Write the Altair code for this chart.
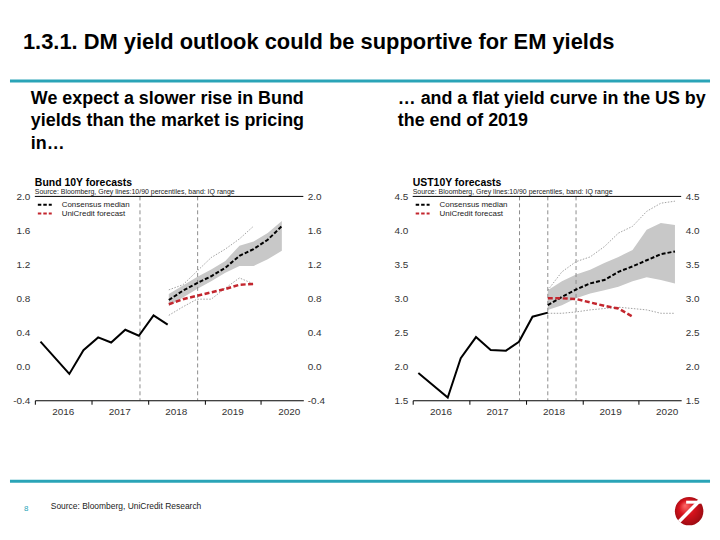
import altair as alt
import pandas as pd

FONT = "Liberation Sans"

# ---------------- text content ----------------
SLIDE_TITLE = "1.3.1. DM yield outlook could be supportive for EM yields"
LEFT_SUB = ["We expect a slower rise in Bund", "yields than the market is pricing", "in\u2026"]
RIGHT_SUB = ["\u2026 and a flat yield curve in the US by", "the end of 2019"]
FOOT_SOURCE = "Source: Bloomberg, UniCredit Research"
PAGE_NO = "8"
CHART_SOURCE = "Source: Bloomberg, Grey lines:10/90 percentiles, band: IQ range"
LEGEND_LABELS = ["Consensus median", "UniCredit forecast"]
YEARS = [2016, 2017, 2018, 2019, 2020]

# ---------------- Bund 10Y ----------------
BUND_TITLE = "Bund 10Y forecasts"
BUND_Y_TICKS = [-0.4, 0.0, 0.4, 0.8, 1.2, 1.6, 2.0]
bund_hist_x = [2016.10, 2016.61, 2016.86, 2017.12, 2017.35, 2017.60, 2017.84, 2018.10, 2018.35]
bund_hist_y = [0.29, -0.09, 0.19, 0.34, 0.28, 0.43, 0.36, 0.60, 0.49]
bund_fc_x = [2018.37, 2018.62, 2018.87, 2019.12, 2019.37, 2019.62, 2019.87, 2020.12, 2020.37]
bund_median = [0.78, 0.89, 0.98, 1.06, 1.16, 1.30, 1.38, 1.49, 1.65]
bund_unicredit = [0.73, 0.79, 0.83, 0.87, 0.91, 0.96, 0.97]
bund_iq_low = [0.71, 0.81, 0.91, 1.00, 1.10, 1.18, 1.18, 1.26, 1.36]
bund_iq_high = [0.85, 0.95, 1.05, 1.14, 1.24, 1.42, 1.47, 1.57, 1.71]
bund_p10 = [0.60, 0.70, 0.79, 0.79, 0.92, 1.04, 0.97]
bund_p90 = [0.90, 0.96, 1.12, 1.28, 1.38, 1.50, 1.65]
bund_vlines = [2017.86, 2018.88]

# ---------------- UST 10Y ----------------
UST_TITLE = "UST10Y forecasts"
UST_Y_TICKS = [1.5, 2.0, 2.5, 3.0, 3.5, 4.0, 4.5]
ust_hist_x = [2016.10, 2016.62, 2016.85, 2017.12, 2017.38, 2017.65, 2017.88, 2018.12, 2018.39]
ust_hist_y = [1.90, 1.54, 2.12, 2.43, 2.24, 2.23, 2.36, 2.73, 2.79]
ust_fc_x = [2018.39, 2018.64, 2018.89, 2019.14, 2019.39, 2019.64, 2019.89, 2020.14, 2020.39, 2020.64]
ust_median = [2.90, 3.02, 3.13, 3.22, 3.27, 3.39, 3.47, 3.56, 3.65, 3.69]
ust_unicredit = [3.00, 3.00, 2.99, 2.94, 2.89, 2.85, 2.73]
ust_iq_low = [2.83, 2.90, 3.00, 3.07, 3.12, 3.17, 3.25, 3.31, 3.27, 3.22]
ust_iq_high = [3.12, 3.25, 3.35, 3.42, 3.52, 3.61, 3.71, 4.01, 4.11, 4.08]
ust_p10 = [2.78, 2.78, 2.80, 2.83, 2.85, 2.87, 2.85, 2.83, 2.78, 2.78]
ust_p90 = [3.12, 3.39, 3.54, 3.61, 3.76, 3.96, 4.06, 4.28, 4.40, 4.43]
ust_vlines = [2017.89, 2018.39, 2018.89]

# ---------------- styling ----------------
W, H = 270, 205
XDOM = [2016, 2020.75]
TEAL = "#2aa4b7"
RED = "#c3262e"
BAND = "#c8c8c8"
ONE = pd.DataFrame({"k": [0]})
YLAB = "datum.value < 0 ? '-' + format(-datum.value, '.1f') : format(datum.value, '.1f')"


def txt(text, x, y, size, weight="normal", color="#000000", align="left",
        baseline="alphabetic", line_height=None):
    kw = dict(text=text, align=align, baseline=baseline, fontSize=size,
              fontWeight=weight, color=color, font=FONT)
    if line_height:
        kw["lineHeight"] = line_height
    return alt.Chart(ONE).mark_text(**kw).encode(x=alt.value(x), y=alt.value(y))


def seg(x1, y1, x2, y2, color, width, dash=None):
    kw = dict(color=color, strokeWidth=width)
    if dash:
        kw["strokeDash"] = dash
    return alt.Chart(ONE).mark_rule(**kw).encode(
        x=alt.value(x1), y=alt.value(y1), x2=alt.value(x2), y2=alt.value(y2))


def panel(title, hx, hy, fx, med, uc, lo, hi, p10, p90, vlines, ydom, yticks, extra=()):
    xs = alt.Scale(domain=XDOM, nice=False, zero=False)
    ys = alt.Scale(domain=ydom, nice=False, zero=False)
    xaxis = alt.Axis(values=YEARS, format="d", labelOffset=28, labelFlush=False,
                     labelOverlap=False, tickSize=4, tickColor="black", tickWidth=1,
                     domainColor="black", domainWidth=1, labelColor="#333333",
                     labelFontSize=10, labelPadding=2, grid=False, title=None, zindex=1)
    yleft = alt.Axis(orient="left", values=yticks, labelExpr=YLAB, ticks=False, domain=False,
                     grid=False, labelPadding=5, labelColor="#333333", labelFontSize=10,
                     labelOverlap=False, labelFlush=False, title=None)
    yright = alt.Axis(orient="right", values=yticks, labelExpr=YLAB, ticks=False, domain=False,
                      grid=False, labelPadding=4, labelColor="#333333", labelFontSize=10,
                      labelOverlap=False, labelFlush=False, title=None)

    def X(f):
        return alt.X(f, scale=xs, axis=xaxis)

    def Y(f):
        return alt.Y(f, scale=ys, axis=yleft)

    band = alt.Chart(pd.DataFrame({"x": fx, "lo": lo, "hi": hi})).mark_area(
        color=BAND, opacity=1).encode(x=X("x:Q"), y=Y("lo:Q"), y2="hi:Q")
    pct_df = pd.DataFrame({
        "x": list(fx[:len(p10)]) + list(fx[:len(p90)]),
        "v": list(p10) + list(p90),
        "s": ["p10"] * len(p10) + ["p90"] * len(p90)})
    pct = alt.Chart(pct_df).mark_line(color="#8a8a8a", strokeWidth=0.8,
                                      strokeDash=[1.5, 1.5]).encode(
        x=X("x:Q"), y=Y("v:Q"), detail="s:N")
    vl = alt.Chart(pd.DataFrame({"x": vlines})).mark_rule(
        color="#8c8c8c", strokeWidth=1, strokeDash=[4, 3]).encode(x=X("x:Q"))
    hist = alt.Chart(pd.DataFrame({"x": hx, "v": hy})).mark_line(
        color="black", strokeWidth=2).encode(x=X("x:Q"), y=Y("v:Q"))
    medl = alt.Chart(pd.DataFrame({"x": fx, "v": med})).mark_line(
        color="black", strokeWidth=2, strokeDash=[4, 2]).encode(x=X("x:Q"), y=Y("v:Q"))
    ucl = alt.Chart(pd.DataFrame({"x": fx[:len(uc)], "v": uc})).mark_line(
        color=RED, strokeWidth=2.5, strokeDash=[5, 2.5]).encode(x=X("x:Q"), y=Y("v:Q"))

    decor = [
        txt(title, 0, -10, 10.5, weight="bold"),
        txt(CHART_SOURCE, 0, -2.5, 7, color="#222222"),
        seg(3, 8.3, 17, 8.3, "black", 2, [3.5, 2]),
        txt(LEGEND_LABELS[0], 27, 8.3, 8, color="#222222", baseline="middle"),
        seg(3, 17.3, 17, 17.3, RED, 2, [3.5, 2]),
        txt(LEGEND_LABELS[1], 27, 17.3, 8, color="#222222", baseline="middle"),
    ]
    inner = alt.layer(*extra, band, pct, vl, hist, medl, ucl, *decor)
    top = alt.Chart(ONE).mark_rule(color="black", strokeWidth=1).encode(
        y=alt.YDatum(ydom[1], scale=ys, axis=yright))
    return alt.layer(inner, top).resolve_scale(y="independent").properties(width=W, height=H)


# slide-wide decorations, expressed relative to the left plot origin (page 33,196)
logo_grad = alt.Gradient(
    gradient="radial",
    stops=[alt.GradientStop(color="#ff6b6b", offset=0),
           alt.GradientStop(color="#d6121c", offset=0.45),
           alt.GradientStop(color="#8e0a10", offset=1)],
    x1=0.35, y1=0.3, r1=0, x2=0.5, y2=0.5, r2=0.6)

slide = [
    alt.Chart(ONE).mark_rect(fillOpacity=0, strokeOpacity=0).encode(
        x=alt.value(-25), x2=alt.value(678), y=alt.value(-188), y2=alt.value(335)),
    txt(SLIDE_TITLE, -12, -148, 22, weight="bold"),
    seg(-25, -116, 679, -116, TEAL, 3),
    txt(LEFT_SUB, -4, -93, 18, weight="bold", line_height=22.5),
    txt(RIGHT_SUB, 365, -93, 18, weight="bold", line_height=22.5),
    seg(-25, 286.5, 679, 286.5, TEAL, 3),
    txt(PAGE_NO, -11, 314, 8, color=TEAL, baseline="middle"),
    txt(FOOT_SOURCE, 16, 311, 8.5, color="#222222", baseline="middle"),
    alt.Chart(ONE).mark_point(shape="circle", filled=True, size=820, fill=logo_grad,
                              opacity=1, strokeWidth=0).encode(
        x=alt.value(658), y=alt.value(316.5)),
    seg(648, 327, 669, 305.5, "white", 3.5),
    seg(655, 307.5, 670, 307.5, "white", 3),
]

left = panel(BUND_TITLE, bund_hist_x, bund_hist_y, bund_fc_x, bund_median, bund_unicredit,
             bund_iq_low, bund_iq_high, bund_p10, bund_p90, bund_vlines,
             [-0.4, 2.0], BUND_Y_TICKS, extra=slide)
right = panel(UST_TITLE, ust_hist_x, ust_hist_y, ust_fc_x, ust_median, ust_unicredit,
              ust_iq_low, ust_iq_high, ust_p10, ust_p90, ust_vlines,
              [1.5, 4.5], UST_Y_TICKS)

chart = alt.hconcat(left, right, spacing=110, bounds="flush").properties(
    padding=0).configure(font=FONT).configure_view(stroke=None).configure_axis(
    labelOverlap=False)

chart.save("out.html", embed_options={"renderer": "svg", "actions": False})
